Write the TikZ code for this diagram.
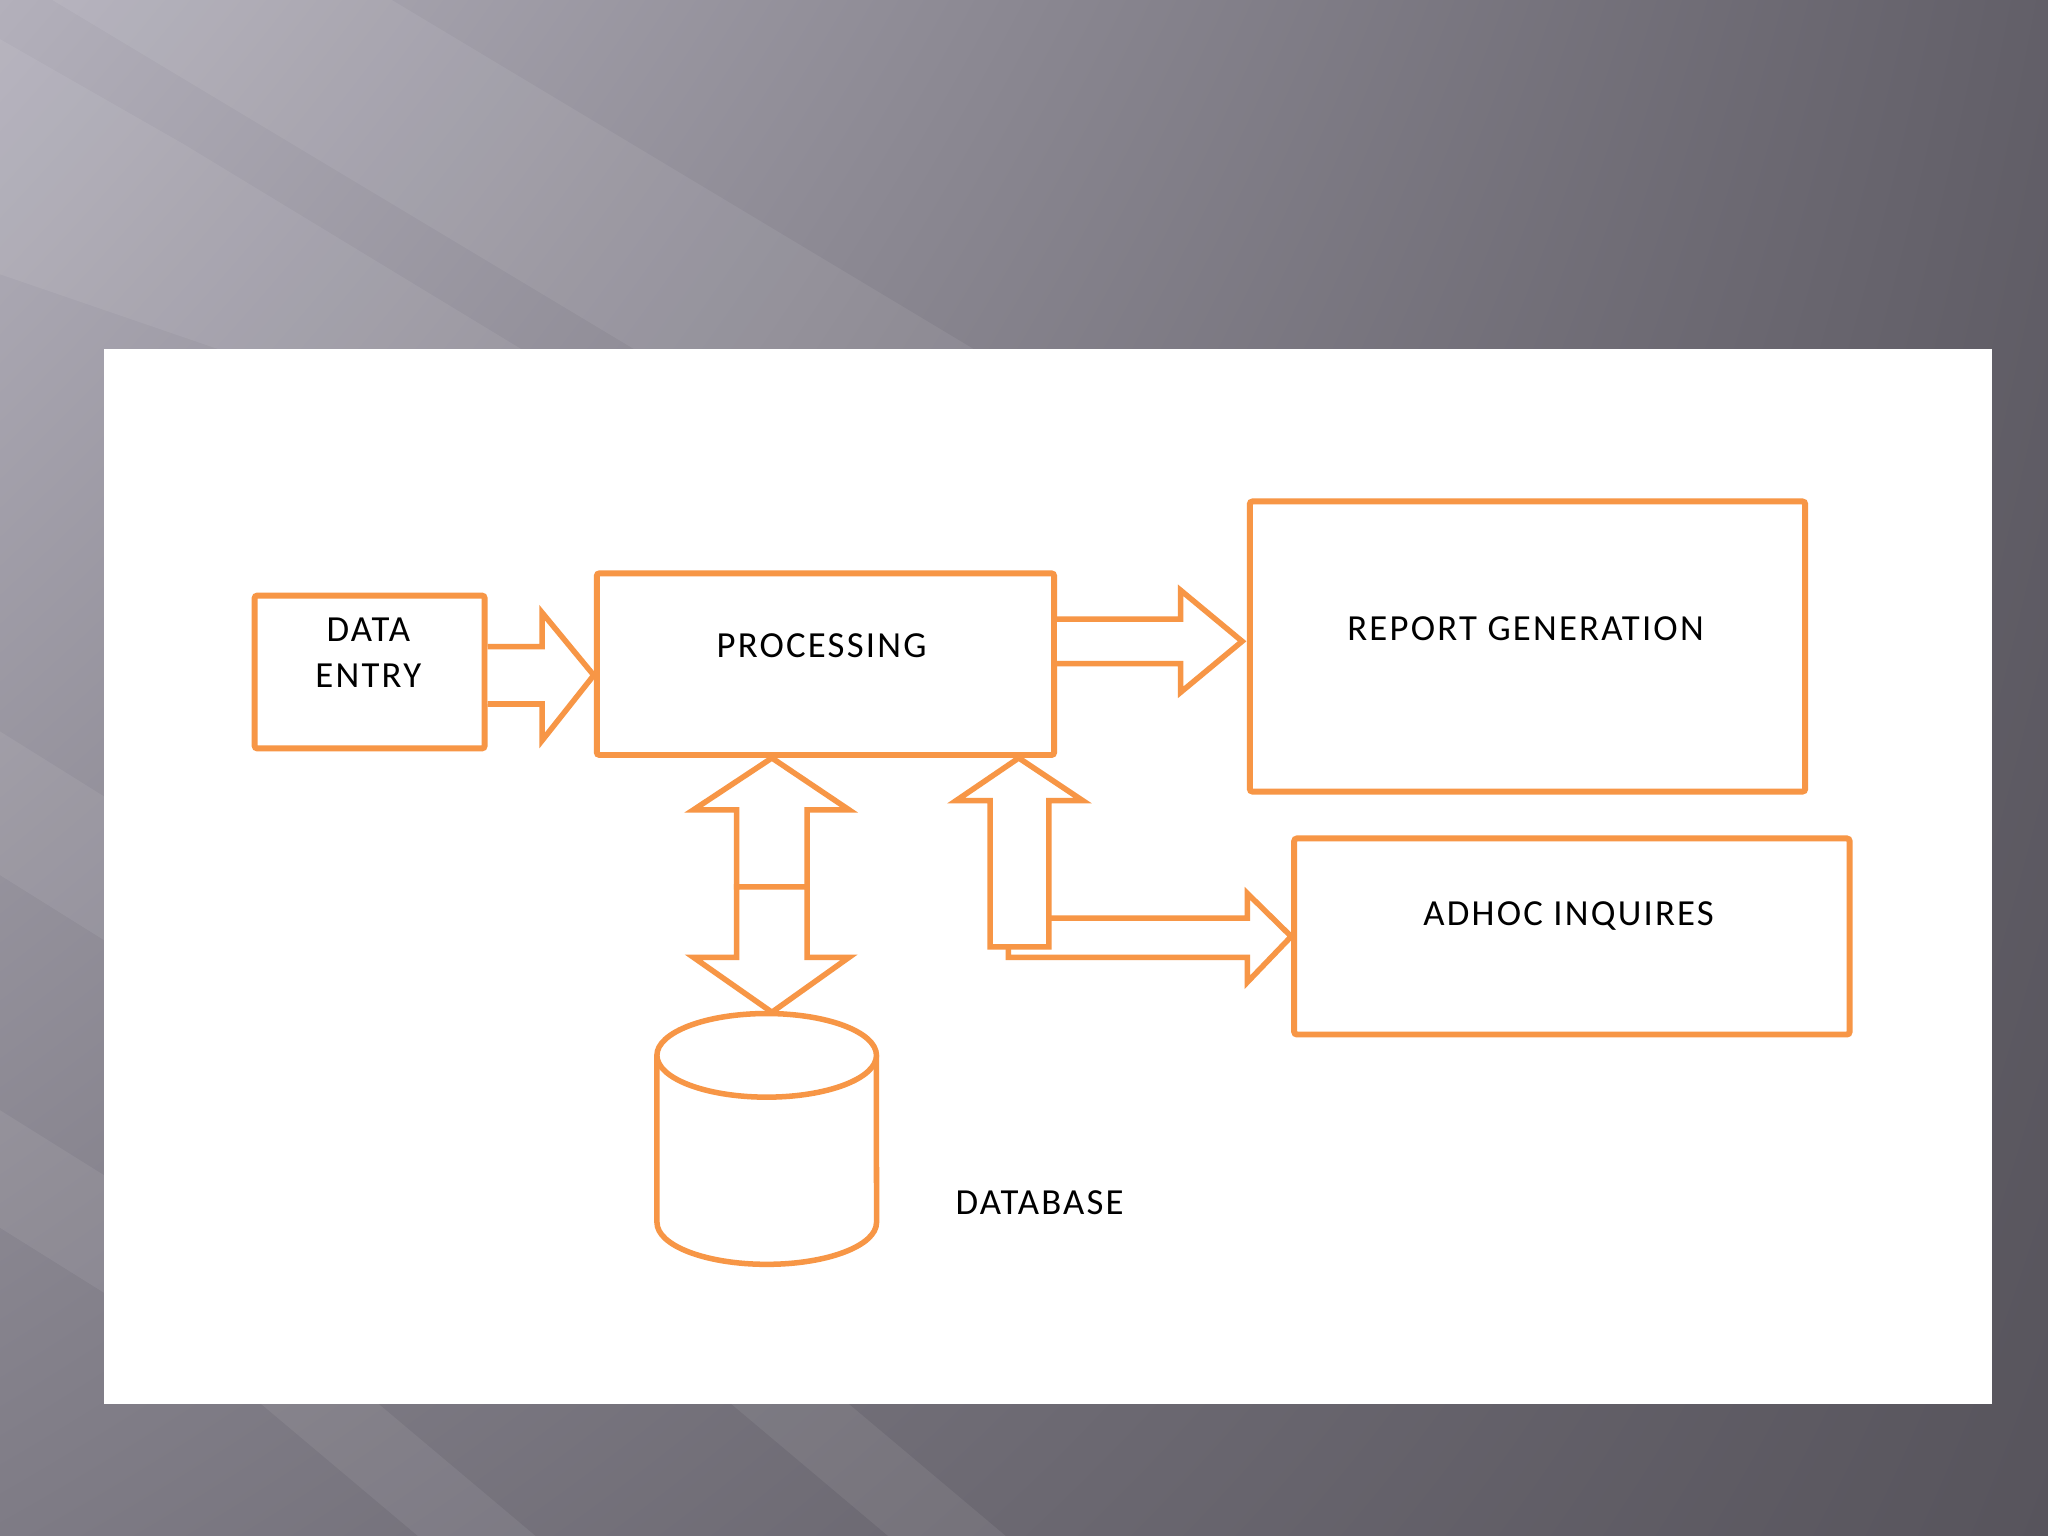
\documentclass[tikz,border=0pt]{standalone}
\usepackage{tikz}
\usepackage{xcolor}
\usepackage{fontspec}
\setmainfont{Carlito}[LetterSpace=6]
\usetikzlibrary{calc,shadings}
\definecolor{boxorange}{HTML}{F79646}
\definecolor{bgul}{HTML}{B3B0BB}
\definecolor{bgur}{HTML}{625F68}
\definecolor{bgll}{HTML}{7E7B85}
\definecolor{bglr}{HTML}{57545C}

\begin{document}
\begin{tikzpicture}[x=0.01cm, y=-0.01cm,
    box/.style = {draw=boxorange, line width=1.3pt, fill=white,
      inner sep=0pt, rounded corners=0.6pt},
    blockarrow/.style = {draw=boxorange, line width=1.2pt, fill=white},
    streak/.style = {fill=white, opacity=0.07},
    lbl/.style = {font=\fontsize{8}{10}\selectfont, text=black, inner sep=0pt}]
    \useasboundingbox (0,0) rectangle (1568,1176);
    \shade[upper left=bgul, upper right=bgur, lower left=bgll, lower right=bglr]
        (0,0) rectangle (1568,1176);
    \fill[streak] (40,0) -- (300,0) -- (1000,420) -- (740,420) -- cycle;
    \fill[streak] (0,30) -- (140,110) -- (700,450) -- (0,210) -- cycle;
    \fill[streak] (0,560) -- (80,610) -- (80,720) -- (0,670) -- cycle;
    \fill[streak] (0,850) -- (80,900) -- (80,990) -- (0,940) -- cycle;
    \fill[streak] (200,1075) -- (290,1075) -- (410,1176) -- (320,1176) -- cycle;
    \fill[streak] (560,1075) -- (650,1075) -- (770,1176) -- (680,1176) -- cycle;
    \fill[white] (80,267) rectangle (1525,1075);

    \node[box, minimum width=1.76cm, minimum height=1.17cm] (entry) at (283,514.5) {};
    \node[box, minimum width=3.5cm, minimum height=1.39cm] (proc) at (632,508.5) {};
    \node[box, minimum width=4.25cm, minimum height=2.22cm] (report) at (1169.5,495) {};
    \node[box, minimum width=4.25cm, minimum height=1.5cm] (adhoc) at (1203.5,717) {};

    \node[lbl, align=center] (entrytext) at (282,500) {DATA\\ENTRY};
    \node[lbl] (proctext) at (629,494) {PROCESSING};
    \node[lbl] (reporttext) at (1168,481) {REPORT GENERATION};
    \node[lbl] (adhoctext) at (1201,701) {ADHOC INQUIRES};
    \node[lbl] (dbtext) at (796,921) {DATABASE};

    \draw[blockarrow] (entry.east |- 0,495) -- (415,495) -- (415,469)
        -- (proc.west |- 0,517) -- (415,567) -- (415,539) -- (entry.east |- 0,539);
    \draw[blockarrow] (proc.east |- 0,474) -- (904,474) -- (904,452)
        -- (951,491) -- (904,530) -- (904,508) -- (proc.east |- 0,508);

    \draw[blockarrow] (503,808) -- (503,936)
        arc[start angle=180, end angle=360, x radius=0.84cm, y radius=0.32cm] -- (671,808);
    \draw[blockarrow] (587,808) ellipse[x radius=0.84cm, y radius=0.32cm];

    \draw[blockarrow] (564,679) -- (564,620) -- (531,620) -- (proc.south -| 591,0)
        -- (650,620) -- (618,620) -- (618,679) -- cycle;
    \draw[blockarrow] (564,679) -- (564,733) -- (531,733) -- (591,775)
        -- (650,733) -- (618,733) -- (618,679) -- cycle;

    \draw[blockarrow] (772,703) -- (955,703) -- (955,684) -- (adhoc.west)
        -- (955,752) -- (955,733) -- (772,733) -- cycle;
    \draw[blockarrow] (758,725) -- (758,613) -- (732,613) -- (proc.south -| 780,0)
        -- (829,613) -- (803,613) -- (803,725) -- cycle;
\end{tikzpicture}
\end{document}
